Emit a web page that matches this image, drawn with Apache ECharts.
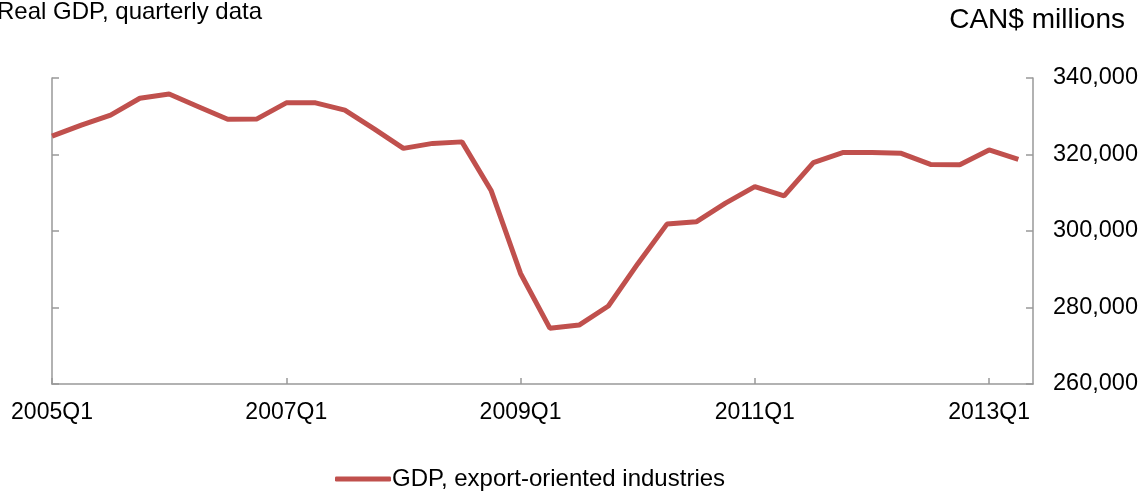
<!DOCTYPE html>
<html>
<head>
<meta charset="utf-8">
<script src="https://cdn.jsdelivr.net/npm/echarts@6/dist/echarts.min.js"></script>
<style>
html,body{margin:0;padding:0;background:#fff;}
#chart{width:1146px;height:491px;}
</style>
</head>
<body>
<div id="chart"></div>
<script>
const quarters = [
  '2005Q1','2005Q2','2005Q3','2005Q4',
  '2006Q1','2006Q2','2006Q3','2006Q4',
  '2007Q1','2007Q2','2007Q3','2007Q4',
  '2008Q1','2008Q2','2008Q3','2008Q4',
  '2009Q1','2009Q2','2009Q3','2009Q4',
  '2010Q1','2010Q2','2010Q3','2010Q4',
  '2011Q1','2011Q2','2011Q3','2011Q4',
  '2012Q1','2012Q2','2012Q3','2012Q4',
  '2013Q1','2013Q2'
];
const gdpExport = [
  324800, 327700, 330300, 334700,
  335800, 332500, 329200, 329300,
  333500, 333500, 331600, 326700,
  321600, 322900, 323300, 310500,
  288900, 274600, 275400, 280400,
  291400, 301800, 302400, 307300,
  311600, 309200, 317900, 320500,
  320500, 320300, 317400, 317300,
  321200, 318700
];
const yTicks = [260000, 280000, 300000, 320000, 340000];
const seriesName = 'GDP, export-oriented industries';
const titleLeft = 'Real GDP, quarterly data';
const titleRight = 'CAN$ millions';

const font = 'Liberation Sans, Arial, sans-serif';
const axisColor = '#999999';
const chart = echarts.init(document.getElementById('chart'));
const data = gdpExport.map((v, i) => [i, v]);

chart.setOption({
  animation: false,
  textStyle: { fontFamily: font },
  graphic: [
    { type: 'text', left: -3, top: 0, style: { text: titleLeft, font: '24px ' + font, fill: '#000' } },
    { type: 'text', right: 21, top: 6, style: { text: titleRight, font: '28px ' + font, fill: '#000' } }
  ],
  grid: { left: 52, right: 113, top: 78, bottom: 107, containLabel: false },
  xAxis: {
    type: 'value',
    min: 0, max: 33.5, interval: 8,
    splitLine: { show: false },
    axisLine: { show: true, lineStyle: { color: axisColor, width: 1.5 } },
    axisTick: { show: true, inside: true, length: 6, lineStyle: { color: axisColor, width: 1.5 } },
    axisLabel: {
      showMaxLabel: false,
      margin: 17,
      fontSize: 23, color: '#000', fontFamily: font,
      formatter: v => quarters[Math.round(v)] || ''
    }
  },
  yAxis: [
    {
      type: 'value', position: 'left',
      min: yTicks[0], max: yTicks[yTicks.length - 1], interval: 20000,
      splitLine: { show: false },
      axisLine: { show: true, lineStyle: { color: axisColor, width: 1.5 } },
      axisTick: { show: true, inside: true, length: 7, lineStyle: { color: axisColor, width: 1.5 } },
      axisLabel: { show: false }
    },
    {
      type: 'value', position: 'right',
      min: yTicks[0], max: yTicks[yTicks.length - 1], interval: 20000,
      splitLine: { show: false },
      axisLine: { show: true, lineStyle: { color: axisColor, width: 1.5 } },
      axisTick: { show: true, inside: true, length: 7, lineStyle: { color: axisColor, width: 1.5 } },
      axisLabel: {
        margin: 20, fontSize: 23.5, color: '#000', fontFamily: font,
        formatter: v => v.toLocaleString('en-US')
      }
    }
  ],
  legend: {
    left: 330, top: 462,
    icon: 'roundRect',
    itemWidth: 56, itemHeight: 5, itemGap: 10,
    textStyle: { fontSize: 24, color: '#000', fontFamily: font, padding: [0, 0, 0, -4] },
    data: [seriesName]
  },
  series: [{
    name: seriesName,
    type: 'line',
    yAxisIndex: 0,
    data: data,
    symbol: 'none',
    lineStyle: { color: '#C0504D', width: 5 },
    itemStyle: { color: '#C0504D' }
  }]
});
</script>
</body>
</html>
